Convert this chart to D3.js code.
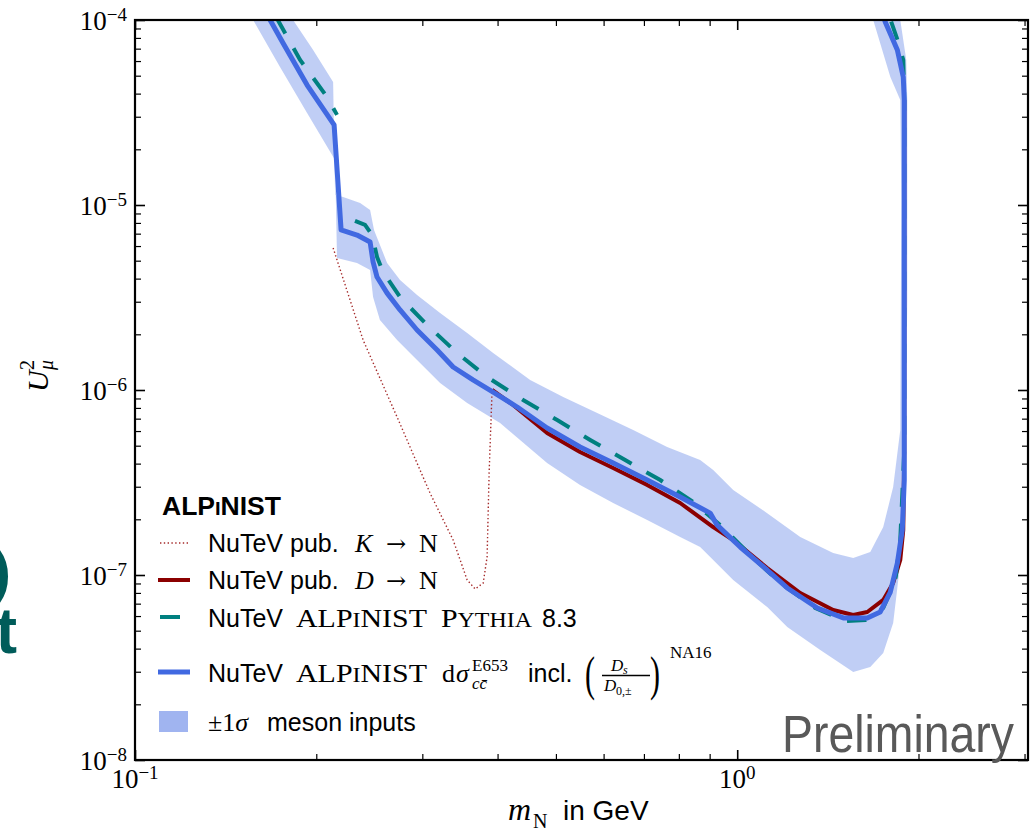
<!DOCTYPE html>
<html>
<head>
<meta charset="utf-8">
<style>
body { margin: 0; background: #fff; }
svg { display: block; }
.sans { font-family: "Liberation Sans", Arial, sans-serif; }
.serif { font-family: "Liberation Serif", "Times New Roman", serif; }
.arrow { font-family: "DejaVu Serif", serif; }
</style>
</head>
<body>
<script src="https://d3js.org/d3.v7.min.js"></script>
<script>

// NuTeV ALPINIST dsigma E653 incl. Ds/D ratio (blue solid)
var blueMass = [0.1665, 0.1761, 0.1931, 0.2141, 0.2199, 0.2337, 0.2457, 0.2485, 0.2523, 0.2622, 0.2755, 0.2940, 0.3175, 0.3375, 0.3641, 0.3933, 0.4311, 0.4834, 0.5483, 0.6223, 0.7088, 0.8040, 0.9018, 0.9264, 1.0115, 1.1215, 1.2109, 1.3586, 1.5000, 1.6443, 1.7278, 1.7958, 1.8448, 1.8797, 1.8941, 1.8941, 1.8869, 1.8448, 1.7613, 1.750];
var blueU2 = [1.04e-4, 7.51e-5, 4.45e-5, 2.71e-5, 7.33e-6, 6.88e-6, 6.31e-6, 4.92e-6, 4.08e-6, 3.34e-6, 2.71e-6, 2.11e-6, 1.645e-6, 1.331e-6, 1.133e-6, 9.75e-7, 8.09e-7, 6.23e-7, 4.92e-7, 4.03e-7, 3.26e-7, 2.64e-7, 2.16e-7, 1.86e-7, 1.417e-7, 1.064e-7, 8.51e-8, 6.63e-8, 5.86e-8, 5.86e-8, 6.31e-8, 8.09e-8, 1.161e-7, 1.75e-7, 3.26e-7, 3.69e-5, 4.92e-5, 6.88e-5, 9.75e-5, 1.04e-4];

// NuTeV published D -> N (dark red solid)
var redMass = [0.3917, 0.4245, 0.4834, 0.5483, 0.6223, 0.7088, 0.8040, 0.9123, 0.9848, 1.1215, 1.2726, 1.4433, 1.5584, 1.6443, 1.7478, 1.8154, 1.8654, 1.8869, 1.8941, 1.8941];
var redU2 = [1.0e-6, 8.3e-7, 5.86e-7, 4.62e-7, 3.79e-7, 3.07e-7, 2.45e-7, 1.817e-7, 1.546e-7, 1.091e-7, 7.99e-8, 6.47e-8, 6.08e-8, 6.31e-8, 7.33e-8, 9.05e-8, 1.205e-7, 1.75e-7, 4.74e-7, 3.69e-5];

// NuTeV ALPINIST Pythia 8.3 (teal dashed); null marks the break at the kaon threshold
var tealMass = [0.1715, 0.1880, 0.2084, 0.2165, null, 0.2319, 0.2410, 0.2476, 0.2523, 0.2582, 0.2755, 0.3055, 0.3427, 0.3843, 0.4411, 0.5024, 0.5700, 0.6516, 0.7451, 0.8451, 0.9371, 1.0510, 1.1788, 1.3481, 1.5115, 1.6317, 1.7478, 1.8305, 1.8654, 1.8941, 1.8941, 1.8869, 1.851, 1.790];
var tealU2 = [1.04e-4, 6.08e-5, 3.84e-5, 3.07e-5, null, 8.2e-6, 7.8e-6, 6.88e-6, 5.24e-6, 4.34e-6, 3.18e-6, 2.245e-6, 1.585e-6, 1.176e-6, 8.83e-7, 6.88e-7, 5.37e-7, 4.18e-7, 3.26e-7, 2.48e-7, 1.86e-7, 1.283e-7, 9.05e-8, 6.63e-8, 5.64e-8, 5.71e-8, 6.63e-8, 9.4e-8, 1.546e-7, 4.74e-7, 3.69e-5, 6.08e-5, 7.6e-5, 1.04e-4];

// NuTeV published K -> N (dotted)
var kaonMass = [0.2133, 0.2392, 0.2724, 0.3090, 0.3375, 0.3561, 0.3672, 0.3786, 0.3843, 0.3873, 0.3917];
var kaonU2 = [5.86e-6, 1.863e-6, 7.14e-7, 2.77e-7, 1.546e-7, 9.4e-8, 8.4e-8, 9.05e-8, 1.251e-7, 3.56e-7, 1.0e-6];

// +-1 sigma meson inputs band: inner edge and outer edge
var bandInMass = [0.1830, 0.1976, 0.2133, 0.2149, 0.2216, 0.2365, 0.2457, 0.2494, 0.2622, 0.2755, 0.2940, 0.3211, 0.3561, 0.3933, 0.4531, 0.5141, 0.5855, 0.6718, 0.7649, 0.8679, 0.9123, 0.9848, 1.1215, 1.2726, 1.4433, 1.5584, 1.6633, 1.7478, 1.8154, 1.8654, 1.8728, 1.8654, 1.796, 1.682];
var bandInU2 = [1.0e-4, 6.88e-5, 4.62e-5, 1.133e-5, 1.105e-5, 1.025e-5, 9.4e-6, 7.33e-6, 4.86e-6, 3.93e-6, 3.26e-6, 2.61e-6, 2.03e-6, 1.585e-6, 1.133e-6, 9.17e-7, 7.51e-7, 6.08e-7, 4.92e-7, 4.18e-7, 3.69e-7, 2.88e-7, 2.16e-7, 1.605e-7, 1.315e-7, 1.235e-7, 1.331e-7, 1.817e-7, 2.99e-7, 6.08e-7, 1.065e-5, 3.69e-5, 4.92e-5, 1.0e-4];
var bandOutMass = [0.1571, 0.1741, 0.1931, 0.2149, 0.2165, 0.2337, 0.2457, 0.2485, 0.2551, 0.2724, 0.2940, 0.3211, 0.3561, 0.4039, 0.4834, 0.5483, 0.6223, 0.7088, 0.8040, 0.8679, 0.9123, 0.9848, 1.1215, 1.2109, 1.3739, 1.5584, 1.6633, 1.7478, 1.8154, 1.8654, 1.9014, 1.9160, 1.9160, 1.9086, 1.8654];
var bandOutU2 = [1.0e-4, 5.57e-5, 3.14e-5, 1.75e-5, 5.17e-6, 4.86e-6, 4.45e-6, 3.18e-6, 2.39e-6, 1.863e-6, 1.453e-6, 1.091e-6, 8.51e-7, 6.63e-7, 4.03e-7, 3.07e-7, 2.45e-7, 1.983e-7, 1.605e-7, 1.417e-7, 1.205e-7, 9.4e-8, 6.71e-8, 5.24e-8, 3.93e-8, 2.99e-8, 3.18e-8, 3.79e-8, 5.5e-8, 1.161e-7, 3.26e-7, 3.07e-6, 3.69e-5, 6.08e-5, 1.0e-4];

// ticks
var xMajor = [0.1, 1];
var xMajorExp = ["\u22121", "0"];
var xMinor = [0.2, 0.3, 0.4, 0.5, 0.6, 0.7, 0.8, 0.9, 2, 3];
var yMajor = [1e-8, 1e-7, 1e-6, 1e-5, 1e-4];
var yMajorExp = ["\u22128", "\u22127", "\u22126", "\u22125", "\u22124"];
var yMinorMult = [2, 3, 4, 5, 6, 7, 8, 9];

var width = 1030, height = 832;
var pL = 135, pR = 1028, pT = 20, pB = 760;

var x = d3.scaleLog().domain([0.1, 3.04]).range([pL, pR]);
var y = d3.scaleLog().domain([1e-8, 1e-4]).range([pB, pT]);

var yMinor = [];
yMajor.slice(0, -1).forEach(function(d) {
  yMinorMult.forEach(function(k) { yMinor.push(d * k); });
});

function pts(xs, ys) { return xs.map(function(v, i) { return [v, ys[i]]; }); }

var line = d3.line()
    .defined(function(d) { return d[0] != null; })
    .x(function(d) { return x(d[0]); })
    .y(function(d) { return y(d[1]); });

var svg = d3.select("body").append("svg")
    .attr("width", width)
    .attr("height", height);

svg.append("defs").append("clipPath").attr("id", "plotclip")
  .append("rect")
    .attr("x", pL).attr("y", pT)
    .attr("width", pR - pL).attr("height", pB - pT);

// cut-off slide text on the left
svg.append("text").attr("class", "sans")
    .attr("x", 11).attr("y", 592).attr("text-anchor", "end")
    .attr("font-size", 60).attr("font-weight", "bold").attr("fill", "#005c5a")
    .text(")");
svg.append("text").attr("class", "sans")
    .attr("x", 17).attr("y", 653).attr("text-anchor", "end")
    .attr("font-size", 64).attr("font-weight", "bold").attr("fill", "#005c5a")
    .text("t");

var plot = svg.append("g").attr("clip-path", "url(#plotclip)");

var bandPts = pts(bandInMass, bandInU2).concat(pts(bandOutMass, bandOutU2).reverse());
plot.append("path")
    .attr("d", line(bandPts) + "Z")
    .attr("fill", "#4169e1")
    .attr("fill-opacity", 0.33)
    .attr("stroke", "none");

plot.append("path")
    .attr("d", line(pts(kaonMass, kaonU2)))
    .attr("fill", "none")
    .attr("stroke", "#a52a2a")
    .attr("stroke-width", 1.4)
    .attr("stroke-dasharray", "1.4,2.4");

plot.append("path")
    .attr("d", line(pts(redMass, redU2)))
    .attr("fill", "none")
    .attr("stroke", "#8b0000")
    .attr("stroke-width", 4)
    .attr("stroke-linejoin", "round");

plot.append("path")
    .attr("d", line(pts(tealMass, tealU2)))
    .attr("fill", "none")
    .attr("stroke", "#008080")
    .attr("stroke-width", 4)
    .attr("stroke-dasharray", "19,17");

plot.append("path")
    .attr("d", line(pts(blueMass, blueU2)))
    .attr("fill", "none")
    .attr("stroke", "#4169e1")
    .attr("stroke-width", 5)
    .attr("stroke-linejoin", "round");

// inward ticks on all four sides
function styleAxis(g, w) {
  g.select(".domain").remove();
  g.selectAll("line").attr("stroke", "#000").attr("stroke-width", w);
}
svg.append("g").attr("transform", "translate(0," + pB + ")")
    .call(d3.axisBottom(x).tickValues(xMajor).tickSize(-10).tickFormat("")).call(styleAxis, 1.6);
svg.append("g").attr("transform", "translate(0," + pB + ")")
    .call(d3.axisBottom(x).tickValues(xMinor).tickSize(-6).tickFormat("")).call(styleAxis, 1.2);
svg.append("g").attr("transform", "translate(0," + pT + ")")
    .call(d3.axisTop(x).tickValues(xMajor).tickSize(-10).tickFormat("")).call(styleAxis, 1.6);
svg.append("g").attr("transform", "translate(0," + pT + ")")
    .call(d3.axisTop(x).tickValues(xMinor).tickSize(-6).tickFormat("")).call(styleAxis, 1.2);
svg.append("g").attr("transform", "translate(" + pL + ",0)")
    .call(d3.axisLeft(y).tickValues(yMajor).tickSize(-10).tickFormat("")).call(styleAxis, 1.6);
svg.append("g").attr("transform", "translate(" + pL + ",0)")
    .call(d3.axisLeft(y).tickValues(yMinor).tickSize(-6).tickFormat("")).call(styleAxis, 1.2);
svg.append("g").attr("transform", "translate(" + pR + ",0)")
    .call(d3.axisRight(y).tickValues(yMajor).tickSize(-10).tickFormat("")).call(styleAxis, 1.6);
svg.append("g").attr("transform", "translate(" + pR + ",0)")
    .call(d3.axisRight(y).tickValues(yMinor).tickSize(-6).tickFormat("")).call(styleAxis, 1.2);

svg.append("rect")
    .attr("x", pL).attr("y", pT)
    .attr("width", pR - pL).attr("height", pB - pT)
    .attr("fill", "none").attr("stroke", "#000").attr("stroke-width", 2.2);

// tick labels
var xl = svg.selectAll(".xlab").data(xMajor).enter().append("text")
    .attr("class", "serif xlab")
    .attr("x", function(d) { return x(d); })
    .attr("y", pB + 28)
    .attr("text-anchor", "middle")
    .attr("font-size", 27);
xl.append("tspan").text("10");
xl.append("tspan").attr("dy", -9).attr("font-size", 19).text(function(d, i) { return xMajorExp[i]; });

var yl = svg.selectAll(".ylab").data(yMajor).enter().append("text")
    .attr("class", "serif ylab")
    .attr("x", pL - 8)
    .attr("y", function(d) { return y(d) + 10; })
    .attr("text-anchor", "end")
    .attr("font-size", 27);
yl.append("tspan").text("10");
yl.append("tspan").attr("dy", -9).attr("font-size", 19).text(function(d, i) { return yMajorExp[i]; });

// axis titles
var xt = svg.append("g");
xt.append("text").attr("class", "serif").attr("x", 508).attr("y", 820)
    .attr("font-size", 32).attr("font-style", "italic").text("m");
xt.append("text").attr("class", "serif").attr("x", 533).attr("y", 828)
    .attr("font-size", 20).text("N");
xt.append("text").attr("class", "sans").attr("x", 563).attr("y", 820)
    .attr("font-size", 28).text("in GeV");

var yt = svg.append("g").attr("transform", "translate(48,392) rotate(-90)");
yt.append("text").attr("class", "serif").attr("x", 0).attr("y", 0)
    .attr("font-size", 30).attr("font-style", "italic").text("U");
yt.append("text").attr("class", "serif").attr("x", 22).attr("y", -14)
    .attr("font-size", 20).text("2");
yt.append("text").attr("class", "serif").attr("x", 22).attr("y", 5)
    .attr("font-size", 20).attr("font-style", "italic").text("\u03bc");

// legend
var leg = svg.append("g");
var title = leg.append("text").attr("class", "sans").attr("x", 162).attr("y", 515)
    .attr("font-size", 25).attr("font-weight", "bold")
    .attr("textLength", 119).attr("lengthAdjust", "spacingAndGlyphs");
title.append("tspan").text("ALP");
title.append("tspan").attr("font-size", 19).text("I");
title.append("tspan").text("NIST");

leg.append("line").attr("x1", 160).attr("x2", 190).attr("y1", 543).attr("y2", 543)
    .attr("stroke", "#a52a2a").attr("stroke-width", 1.4).attr("stroke-dasharray", "1.4,2.4");
leg.append("line").attr("x1", 158).attr("x2", 190).attr("y1", 580).attr("y2", 580)
    .attr("stroke", "#8b0000").attr("stroke-width", 4);
leg.append("line").attr("x1", 160).attr("x2", 190).attr("y1", 617).attr("y2", 617)
    .attr("stroke", "#008080").attr("stroke-width", 4).attr("stroke-dasharray", "20,20");
leg.append("line").attr("x1", 158).attr("x2", 190).attr("y1", 672).attr("y2", 672)
    .attr("stroke", "#4169e1").attr("stroke-width", 5);
leg.append("rect").attr("x", 159).attr("y", 711).attr("width", 29).attr("height", 21)
    .attr("fill", "#4169e1").attr("fill-opacity", 0.5);

function txt(cls, xx, yy, size, s, italic) {
  var t = leg.append("text").attr("class", cls).attr("x", xx).attr("y", yy)
      .attr("font-size", size).text(s);
  if (italic) t.attr("font-style", "italic");
  return t;
}
function alpinist(xx, yy) {
  var t = leg.append("text").attr("class", "serif").attr("x", xx).attr("y", yy).attr("font-size", 25)
      .attr("textLength", 131).attr("lengthAdjust", "spacingAndGlyphs");
  t.append("tspan").text("ALP");
  t.append("tspan").attr("font-size", 20).text("I");
  t.append("tspan").text("NIST");
}

// row 1
txt("sans", 208, 552, 25, "NuTeV pub.");
txt("serif", 355, 552, 26, "K", true);
txt("arrow", 386, 552, 24, "\u2192");
txt("serif", 419, 552, 26, "N");
// row 2
txt("sans", 208, 589, 25, "NuTeV pub.");
txt("serif", 355, 589, 26, "D", true);
txt("arrow", 386, 589, 24, "\u2192");
txt("serif", 419, 589, 26, "N");
// row 3
txt("sans", 208, 627, 25, "NuTeV");
alpinist(296, 627);
var py = leg.append("text").attr("class", "serif").attr("x", 441).attr("y", 627).attr("font-size", 25)
    .attr("textLength", 91).attr("lengthAdjust", "spacingAndGlyphs");
py.append("tspan").text("P");
py.append("tspan").attr("font-size", 20).text("YTHIA");
txt("sans", 542, 627, 25, "8.3");
// row 4
txt("sans", 208, 682, 25, "NuTeV");
alpinist(296, 682);
txt("serif", 442, 682, 26, "d");
txt("serif", 456, 682, 26, "\u03c3", true);
txt("serif", 472, 671, 17, "E653");
txt("serif", 472, 689, 17, "cc\u0304", true);
txt("sans", 528, 682, 25, "incl.");
leg.append("text").attr("class", "serif").attr("x", 585).attr("y", 687)
    .attr("font-size", 30).attr("transform", "translate(0,-430) scale(1,1.63)")
    .text("(");
leg.append("text").attr("class", "serif").attr("x", 650).attr("y", 687)
    .attr("font-size", 30).attr("transform", "translate(0,-430) scale(1,1.63)")
    .text(")");
txt("serif", 611, 671, 17, "D", true);
txt("serif", 623, 674, 12, "s", true);
leg.append("line").attr("x1", 602).attr("x2", 650).attr("y1", 675.5).attr("y2", 675.5)
    .attr("stroke", "#000").attr("stroke-width", 1.3);
txt("serif", 604, 691, 17, "D", true);
txt("serif", 616, 695, 12, "0,\u00b1");
txt("serif", 670, 658, 17, "NA16");
// row 5
var r5 = leg.append("text").attr("class", "serif").attr("x", 208).attr("y", 731).attr("font-size", 26);
r5.append("tspan").text("\u00b11");
r5.append("tspan").attr("font-style", "italic").text("\u03c3");
txt("sans", 267, 731, 25, "meson inputs");

svg.append("text").attr("class", "sans")
    .attr("x", 1014).attr("y", 752)
    .attr("text-anchor", "end")
    .attr("font-size", 51)
    .attr("textLength", 232)
    .attr("lengthAdjust", "spacingAndGlyphs")
    .attr("fill", "#595959")
    .text("Preliminary");

</script>
</body>
</html>
